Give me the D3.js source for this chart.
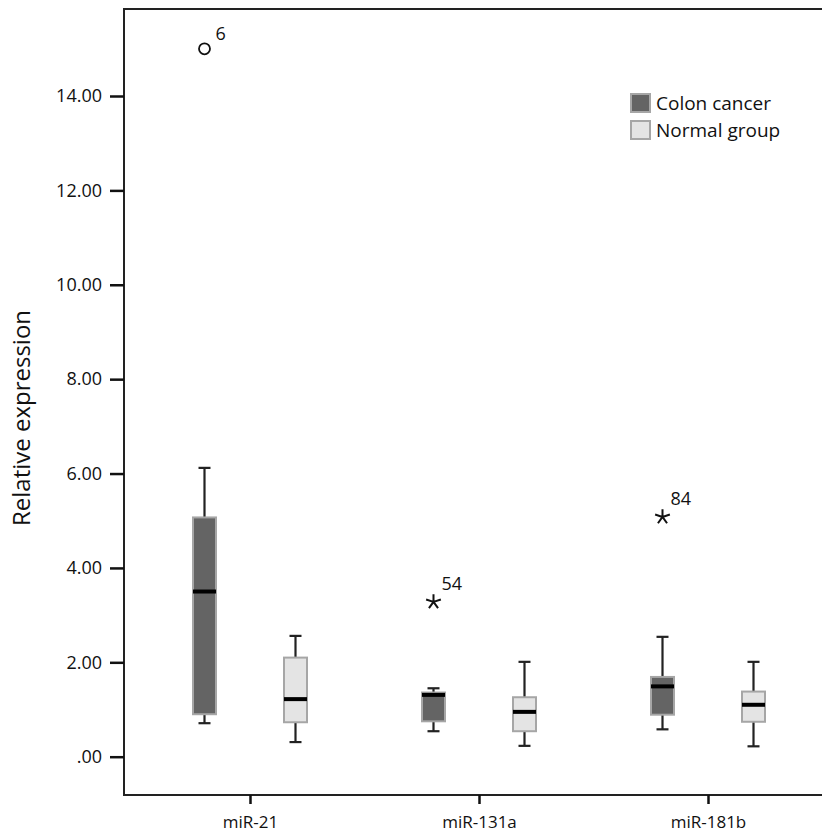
<!DOCTYPE html>
<html>
<head>
<meta charset="utf-8">
<script src="https://cdn.jsdelivr.net/npm/d3@7"></script>
<style>
  body { margin: 0; background: #fff; }
  svg text { font-family: "Open Sans", "Noto Sans", sans-serif; fill: #111; }
</style>
</head>
<body>
<svg id="chart" width="822" height="836"></svg>
<script>
// ---- data ----
const categories = ['miR-21', 'miR-131a', 'miR-181b'];
const groups     = ['Colon cancer', 'Normal group'];
// [whiskerLow, q1, median, q3, whiskerHigh] per category, per group
const cancerStats = [
  [0.71, 0.90, 3.50, 5.07, 6.12],
  [0.54, 0.75, 1.31, 1.36, 1.45],
  [0.58, 0.89, 1.49, 1.69, 2.54]
];
const normalStats = [
  [0.31, 0.73, 1.22, 2.10, 2.56],
  [0.23, 0.54, 0.95, 1.26, 2.01],
  [0.22, 0.74, 1.10, 1.38, 2.01]
];
// outliers: circle = mild, star = extreme
const outliers = [
  { cat: 'miR-21',   group: 'Colon cancer', value: 15.0, label: '6',  kind: 'circle' },
  { cat: 'miR-131a', group: 'Colon cancer', value: 3.28, label: '54', kind: 'star' },
  { cat: 'miR-181b', group: 'Colon cancer', value: 5.08, label: '84', kind: 'star' }
];
const yTicks = [0, 2, 4, 6, 8, 10, 12, 14];

const fills   = { 'Colon cancer': '#646464', 'Normal group': '#e4e4e4' };
const strokes = { 'Colon cancer': '#a6a6a6', 'Normal group': '#a6a6a6' };

// ---- layout ----
const frameL = 124, frameT = 9, frameB = 795;
const svg = d3.select('#chart');

const y  = d3.scaleLinear().domain([0, 14]).range([756.7, 96]);
const x  = d3.scalePoint().domain(categories).range([250, 708]);
const xg = d3.scalePoint().domain(groups).range([-45.5, 45.5]);
const boxW = 23, capW = 12;

// frame (right side runs off the picture)
svg.append('path')
  .attr('d', `M830,${frameT}H${frameL}V${frameB}H830`)
  .attr('fill', 'none').attr('stroke', '#222').attr('stroke-width', 2);

// y axis
const yAxis = svg.append('g').attr('transform', `translate(${frameL},0)`)
  .call(d3.axisLeft(y).tickValues(yTicks).tickSize(14).tickPadding(8)
    .tickFormat(d => d3.format('.2f')(d).replace(/^0\./, '.')));
yAxis.select('.domain').remove();
yAxis.selectAll('line').attr('stroke', '#111').attr('stroke-width', 2.5);
yAxis.selectAll('text').attr('font-size', 18).attr('fill', '#111')
  .attr('font-family', '"Open Sans", sans-serif');

svg.append('text')
  .attr('transform', 'translate(30,418) rotate(-90)')
  .attr('text-anchor', 'middle').attr('font-size', 24)
  .text('Relative expression');

// x axis
const xAxis = svg.append('g').attr('transform', `translate(0,${frameB})`)
  .call(d3.axisBottom(x).tickSize(9).tickPadding(12));
xAxis.select('.domain').remove();
xAxis.selectAll('line').attr('stroke', '#111').attr('stroke-width', 2.5);
xAxis.selectAll('text').attr('font-size', 17).attr('fill', '#111')
  .attr('font-family', '"Open Sans", sans-serif');

// boxes
const rows = [];
categories.forEach((c, i) => {
  rows.push({ cat: c, group: groups[0], s: cancerStats[i] });
  rows.push({ cat: c, group: groups[1], s: normalStats[i] });
});

const box = svg.append('g').selectAll('g').data(rows).join('g')
  .attr('transform', d => `translate(${x(d.cat) + xg(d.group)},0)`);

box.append('line')
  .attr('y1', d => y(d.s[0])).attr('y2', d => y(d.s[4]))
  .attr('stroke', '#222').attr('stroke-width', 2.2);
box.selectAll('line.cap').data(d => [d.s[0], d.s[4]]).join('line')
  .attr('class', 'cap')
  .attr('x1', -capW / 2).attr('x2', capW / 2)
  .attr('y1', v => y(v)).attr('y2', v => y(v))
  .attr('stroke', '#222').attr('stroke-width', 2.2);
box.append('rect')
  .attr('x', -boxW / 2).attr('width', boxW)
  .attr('y', d => y(d.s[3])).attr('height', d => y(d.s[1]) - y(d.s[3]))
  .attr('fill', d => fills[d.group]).attr('stroke', d => strokes[d.group])
  .attr('stroke-width', 2);
box.append('line')
  .attr('x1', -boxW / 2).attr('x2', boxW / 2)
  .attr('y1', d => y(d.s[2])).attr('y2', d => y(d.s[2]))
  .attr('stroke', '#000').attr('stroke-width', 4);

// outliers
const star5 = {
  draw(ctx, size) {
    const r = Math.sqrt(size) / 2;
    for (let k = 0; k < 5; k++) {
      const a = -Math.PI / 2 + k * 2 * Math.PI / 5;
      ctx.moveTo(0, 0);
      ctx.lineTo(r * Math.cos(a), r * Math.sin(a));
    }
  }
};
const out = svg.append('g').selectAll('g').data(outliers).join('g')
  .attr('transform', d => `translate(${x(d.cat) + xg(d.group)},${y(d.value)})`);
out.filter(d => d.kind === 'circle').append('circle')
  .attr('r', 5.5).attr('fill', 'none').attr('stroke', '#111').attr('stroke-width', 1.8);
out.filter(d => d.kind === 'star').append('path')
  .attr('d', d3.symbol().type(star5).size(240))
  .attr('fill', 'none').attr('stroke', '#111').attr('stroke-width', 2);
out.append('text')
  .attr('x', d => d.kind === 'circle' ? 11 : 8)
  .attr('y', d => d.kind === 'circle' ? -9 : -12)
  .attr('font-size', 18).text(d => d.label);

// legend
const legend = svg.append('g').attr('transform', 'translate(631,94)');
const li = legend.selectAll('g').data(groups).join('g')
  .attr('transform', (d, i) => `translate(0,${i * 27})`);
li.append('rect').attr('width', 19).attr('height', 18)
  .attr('fill', d => fills[d]).attr('stroke', d => strokes[d]).attr('stroke-width', 2);
li.append('text').attr('x', 25).attr('y', 16).attr('font-size', 19).text(d => d);
</script>
</body>
</html>
